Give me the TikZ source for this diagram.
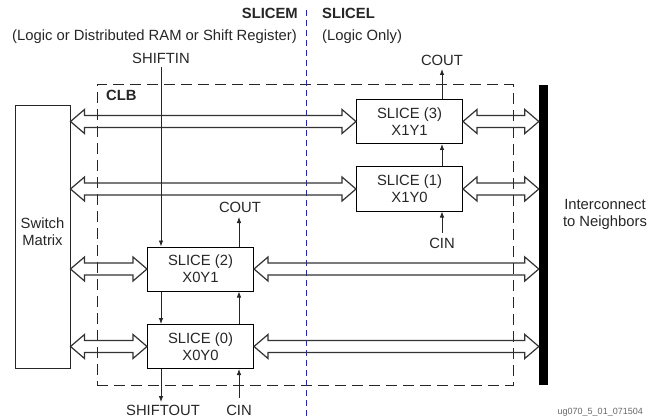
\documentclass[tikz,border=0pt]{standalone}
\usepackage{fontspec}
\setmainfont{Liberation Sans}
\usetikzlibrary{arrows.meta,calc}
\definecolor{divblue}{RGB}{40,40,170}
\newcommand{\hollowarrow}[2]{%
  \draw[harrow] let \p1=(#1), \p2=(#2) in
    (\x1,\y1) -- ++(14pt,12pt) -- ++(0pt,-6pt) -- (\x2-14pt,\y1+6pt) -- ++(0pt,6pt)
    -- (\x2,\y1) -- ++(-14pt,-12pt) -- ++(0pt,6pt) -- (\x1+14pt,\y1-6pt) -- ++(0pt,-6pt) -- cycle;}
\begin{document}
\begin{tikzpicture}[x=1pt,y=-1pt,
  every node/.style={font=\fontsize{14.8}{17}\selectfont, text=black!85},
  slicebox/.style={draw, line width=1pt, minimum width=106pt, minimum height=44pt, inner sep=0pt, align=center},
  harrow/.style={draw=black!80, line width=1.2pt, line join=miter},
  sarrow/.style={draw=black!85, line width=0.8pt, -{Latex[length=6pt,width=4.5pt]}},
  lbl/.style={anchor=base, inner sep=0pt},
  boldlbl/.style={inner sep=0pt, font=\fontsize{14.8}{17}\selectfont\bfseries}]
\useasboundingbox (0,0) rectangle (648,417);

% CLB region
\node[draw=black!85, line width=1pt, dash pattern=on 11pt off 6pt, minimum width=416pt, minimum height=300pt, inner sep=0pt] (clb) at (305,235) {};
\node[boldlbl, anchor=base west] (tclb) at (106,101) {CLB};

% SLICEM / SLICEL divider
\coordinate (divtop) at (306,10);
\coordinate (divbot) at (306,417);
\draw[divblue, line width=0.8pt, dash pattern=on 6pt off 4pt] (divtop) -- (divbot);
\node[boldlbl, anchor=base east] (tslicem) at (298,19) {SLICEM};
\node[lbl, anchor=base east] (tslicemsub) at (297,41) {(Logic or Distributed RAM or Shift Register)};
\node[boldlbl, anchor=base west] (tslicel) at (322,19) {SLICEL};
\node[lbl, anchor=base west] (tslicelsub) at (322,41) {(Logic Only)};

% Switch matrix and interconnect bar
\node[draw=black!85, line width=1pt, minimum width=55pt, minimum height=262pt, inner sep=0pt] (sm) at (42.5,237) {};
\node[align=center, inner sep=0pt] (tsm) at (42.5,232) {Switch\\Matrix};
\node[fill=black, minimum width=9pt, minimum height=300pt, inner sep=0pt] (bar) at (543.5,235) {};
\node[align=center, inner sep=0pt] (tbar) at (605,214) {Interconnect\\to Neighbors};

% Slices
\node[slicebox] (s3) at (409.5,121.5) {SLICE (3)\\X1Y1};
\node[slicebox] (s1) at (409.5,189) {SLICE (1)\\X1Y0};
\node[slicebox] (s2) at (200.5,269) {SLICE (2)\\X0Y1};
\node[slicebox] (s0) at (200.5,346.5) {SLICE (0)\\X0Y0};

% Hollow bus arrows
\hollowarrow{sm.east |- s3.west}{s3.west}
\hollowarrow{s3.east}{bar.west |- s3.east}
\hollowarrow{sm.east |- s1.west}{s1.west}
\hollowarrow{s1.east}{bar.west |- s1.east}
\hollowarrow{sm.east |- s2.west}{s2.west}
\hollowarrow{s2.east}{bar.west |- s2.east}
\hollowarrow{sm.east |- s0.west}{s0.west}
\hollowarrow{s0.east}{bar.west |- s0.east}

% Shift chain
\coordinate (shiftin) at (161,67);
\coordinate (shiftout) at (161,402);
\node[lbl] (tshiftin) at (161,64) {SHIFTIN};
\node[lbl] (tshiftout) at (163,415) {SHIFTOUT};
\draw[sarrow] (shiftin) -- (shiftin |- s2.north);
\draw[sarrow] (s2.south -| shiftin) -- (s0.north -| shiftin);
\draw[sarrow] (s0.south -| shiftout) -- (shiftout);

% Carry chain, left column
\coordinate (cin0) at (239,398);
\coordinate (cout2) at (239,217);
\node[lbl] (tcin0) at (239,415) {CIN};
\node[lbl] (tcout2) at (240,212) {COUT};
\draw[sarrow] (cin0) -- (cin0 |- s0.south);
\draw[sarrow] (s0.north -| cin0) -- (s2.south -| cin0);
\draw[sarrow] (s2.north -| cout2) -- (cout2);

% Carry chain, right column
\coordinate (cin1) at (442,233);
\coordinate (cout3) at (442,69);
\node[lbl] (tcin1) at (442,248) {CIN};
\node[lbl] (tcout3) at (442,66) {COUT};
\draw[sarrow] (cin1) -- (cin1 |- s1.south);
\draw[sarrow] (s1.north -| cin1) -- (s3.south -| cin1);
\draw[sarrow] (s3.north -| cout3) -- (cout3);

% Figure code
\node[anchor=base east, inner sep=0pt, font=\fontsize{9}{10}\selectfont, text=black!60] (code) at (643,414) {ug070\_5\_01\_071504};
\end{tikzpicture}
\end{document}
